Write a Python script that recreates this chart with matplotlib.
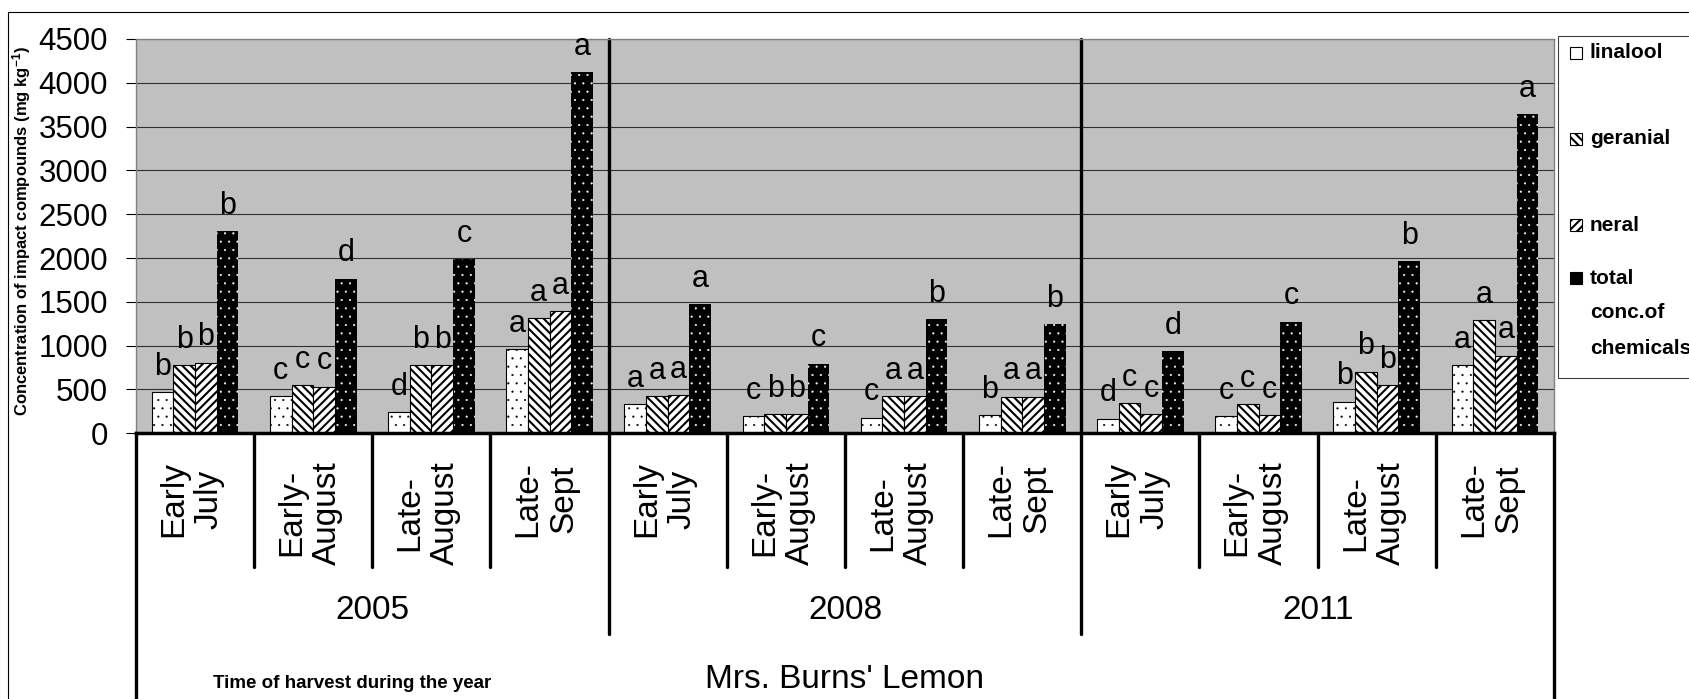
import matplotlib
matplotlib.use("Agg")
import matplotlib.pyplot as plt
from matplotlib.patches import Rectangle
import numpy as np

plt.rcParams['font.family'] = ['Liberation Sans', 'DejaVu Sans']
plt.rcParams['mathtext.default'] = 'regular'

# values (mg kg-1)
years = ['2005', '2008', '2011']
periods = ['Early\nJuly', 'Early-\nAugust', 'Late-\nAugust', 'Late-\nSept']
linalool = [469, 423, 238, 961, 330, 192, 177, 204, 165, 196, 362, 777]
geranial = [777, 546, 777, 1315, 423, 219, 423, 416, 346, 330, 704, 1292]
neral = [808, 531, 777, 1396, 438, 219, 423, 416, 219, 207, 546, 884]
total = [2310, 1765, 1985, 4120, 1470, 796, 1303, 1242, 938, 1272, 1962, 3640]

# significance letters
lin_lab = ['b', 'c', 'd', 'a', 'a', 'c', 'c', 'b', 'd', 'c', 'b', 'a']
ger_lab = ['b', 'c', 'b', 'a', 'a', 'b', 'a', 'a', 'c', 'c', 'b', 'a']
ner_lab = ['b', 'c', 'b', 'a', 'a', 'b', 'a', 'a', 'c', 'c', 'b', 'a']
tot_lab = ['b', 'd', 'c', 'a', 'a', 'c', 'b', 'b', 'd', 'c', 'b', 'a']

legend_labels = ['linalool', 'geranial', 'neral', 'total\nconc.of\nchemicals']

fig = plt.figure(figsize=(16.9, 6.99), dpi=100)
ax = fig.add_axes([136 / 1690, 1 - 433.3 / 699, (1554 - 136) / 1690, (433.3 - 39) / 699])
ax.set_facecolor('#c0c0c0')

x = np.arange(len(linalool))
w = 0.1836

# thin hatch lines for the dotted bars, heavier for the stripes
plt.rcParams['hatch.linewidth'] = 0.3
b1 = ax.bar(x - 1.5 * w, linalool, w, facecolor='white', edgecolor='black', lw=0.8, hatch='..')
b4 = ax.bar(x + 1.5 * w, total, w, facecolor='black', edgecolor='white', lw=0, hatch='..')
plt.rcParams['hatch.linewidth'] = 1.5
b2 = ax.bar(x - 0.5 * w, geranial, w, facecolor='white', edgecolor='black', lw=0.8, hatch='\\\\\\\\')
b3 = ax.bar(x + 0.5 * w, neral, w, facecolor='white', edgecolor='black', lw=0.8, hatch='////')

for bars, labs in [(b1, lin_lab), (b2, ger_lab), (b3, ner_lab), (b4, tot_lab)]:
    for rect, lab in zip(bars, labs):
        ax.annotate(lab, (rect.get_x() + rect.get_width() / 2, rect.get_height()),
                    xytext=(0, 12.5), textcoords='offset points',
                    ha='center', va='baseline', fontsize=22)

ax.set_xlim(-0.5, 11.5)
ax.set_ylim(0, 4500)
ax.set_yticks(np.arange(0, 4501, 500))
ax.tick_params(axis='y', labelsize=22.5, length=7.2, pad=13, width=0.8)
ax.set_xticks([])
ax.yaxis.grid(True, color='#303030', lw=0.8)
ax.set_axisbelow(True)
for side in ['left', 'top', 'right']:
    ax.spines[side].set_color('#808080')
    ax.spines[side].set_linewidth(1)
ax.spines['bottom'].set_color('black')
ax.spines['bottom'].set_linewidth(2.5)

# multi-level category axis
tr = ax.get_xaxis_transform()
for i in range(13):
    xs = i - 0.5
    if i in (0, 12):
        ax.plot([xs, xs], [0, -0.72], transform=tr, color='black', lw=2.4, clip_on=False)
    elif i % 4 == 0:
        ax.plot([xs, xs], [1, -0.509], transform=tr, color='black', lw=2.4, clip_on=False,
                solid_capstyle='round')
    else:
        ax.plot([xs, xs], [0, -0.339], transform=tr, color='black', lw=2.4, clip_on=False,
                solid_capstyle='round')

for i in range(12):
    ax.text(i - 0.03, -0.07, periods[i % 4], transform=tr, rotation=90, ha='center', va='top',
            multialignment='center', fontsize=24)
for j, yr in enumerate(years):
    ax.text(4 * j + 1.5, -0.449, yr, transform=tr, ha='center', va='center', fontsize=24)

ax.text(5.5, -0.646, "Mrs. Burns' Lemon", transform=tr, ha='center', va='baseline', fontsize=24)
ax.text(1.327, -0.646, 'Time of harvest during the year', transform=tr, ha='center',
        va='baseline', fontsize=13.5, fontweight='bold')

fig.text(22 / 1690, 1 - 231.5 / 699, 'Concentration of impact compounds (mg kg$^{-1}$)',
         rotation=90, ha='center', va='center', fontsize=12, fontweight='bold')

# outer chart border
fig.add_artist(Rectangle((8.3 / 1690, -0.1), 2, 1.1 - 11.7 / 699, transform=fig.transFigure,
                         fill=False, edgecolor='black', lw=0.8))

# legend
fig.add_artist(Rectangle((1558.3 / 1690, 1 - 378 / 699), 0.1, (378 - 36) / 699,
                         transform=fig.transFigure, facecolor='white', edgecolor='#404040', lw=0.8))
leg_y = [53, 139, 225, 278]
styles = [dict(facecolor='white', edgecolor='black', hatch=None),
          dict(facecolor='white', edgecolor='black', hatch='\\\\\\\\'),
          dict(facecolor='white', edgecolor='black', hatch='////'),
          dict(facecolor='black', edgecolor='black', hatch=None)]
for yy, lab, st in zip(leg_y, legend_labels, styles):
    fig.add_artist(Rectangle((1570 / 1690, 1 - (yy + 5.8) / 699), 11.7 / 1690, 11.7 / 699,
                             transform=fig.transFigure, lw=0.8, **st))
    for k, line in enumerate(lab.split('\n')):
        fig.text(1590 / 1690, 1 - (yy + 35 * k) / 699, line, ha='left', va='center',
                 fontsize=15, fontweight='bold')

fig.savefig('out.png', dpi=100)
